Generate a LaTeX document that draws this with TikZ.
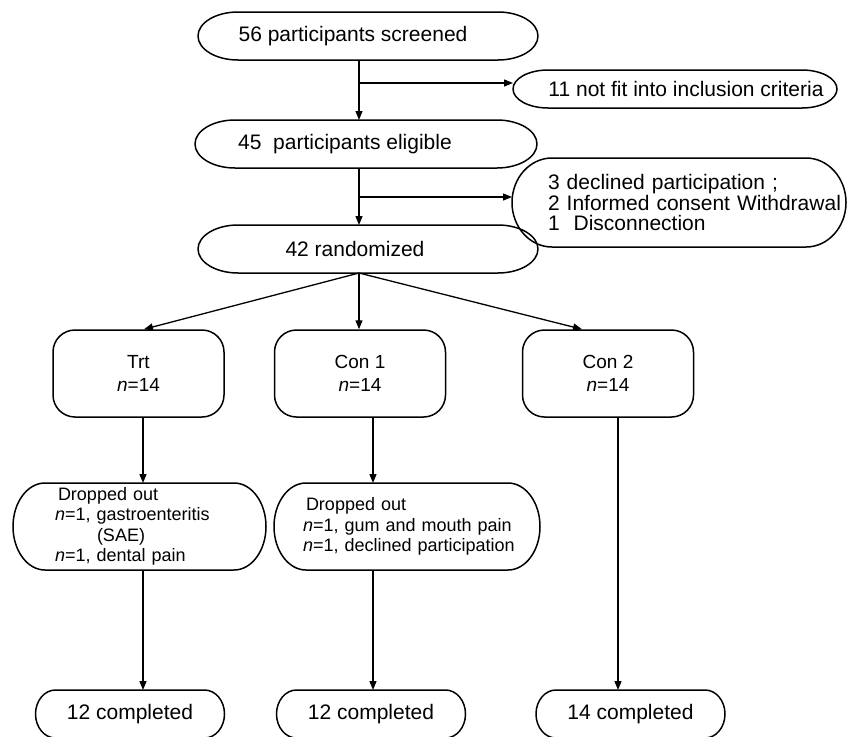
\documentclass[tikz,border=0pt]{standalone}
\usepackage{fontspec}
\setmainfont{Liberation Sans}
\usetikzlibrary{arrows.meta}
\newcommand{\fsA}{\fontsize{21}{24}\selectfont}
\newcommand{\fsD}{\fontsize{21}{19.5}\selectfont}
\newcommand{\fsB}{\fontsize{19}{23}\selectfont}
\newcommand{\fsC}{\fontsize{18}{20.5}\selectfont}
\tikzset{
  lw/.style={line width=1.5pt},
  arr/.style={line width=1.3pt,-{Triangle[length=9pt,width=7pt]}},
  obox/.style 2 args={inner sep=0pt, outer sep=0pt,
    append after command={\pgfextra{\let\LN\tikzlastnode
      \draw[lw,line join=round] ([xshift=#1pt]\LN.north west) -- ([xshift=-#1pt]\LN.north east)
        arc[start angle=90,end angle=-90,x radius=#1pt,y radius=#2pt]
        -- ([xshift=#1pt]\LN.south west)
        arc[start angle=270,end angle=90,x radius=#1pt,y radius=#2pt] -- cycle;}}},
  topbox/.style={obox={40}{24}, minimum width=340pt, minimum height=48pt, font=\fsA},
  grp/.style={draw, lw, rounded corners=22pt, inner sep=0pt, minimum width=171pt, minimum height=87pt, align=center, font=\fsB},
  drop/.style={obox={32}{43.5}, minimum height=87pt, align=left, font=\fsC},
  done/.style={obox={20}{24}, minimum width=189pt, minimum height=48pt, font=\fsA},
}
\begin{document}
\begin{tikzpicture}[x=1pt,y=-1pt]
\useasboundingbox (0,0) rectangle (848,736);
% top flow
\node[topbox] (s) at (368,36) {\hspace*{-30pt}56 participants screened};
\node[obox={35}{19}, minimum width=324pt, minimum height=38pt, font=\fsA] (n11) at (675,89) {\hspace*{22pt}11 not fit into inclusion criteria};
\node[topbox, minimum width=342pt] (e) at (366,144) {\hspace*{-42pt}45\ \ participants eligible};
\node[obox={40}{44.5}, minimum width=334pt, minimum height=89pt, text width=334pt, align=left, font=\fsD] (d3) at (679,202.5)
  {\hspace*{36pt}3 declined participation ;\\ \hspace*{36pt}2 Informed consent Withdrawal\\ \hspace*{36pt}1\ \ Disconnection};
\node[topbox] (r) at (368,249) {\hspace*{-26pt}42 randomized};
% groups
\node[grp] (g1) at (138.5,373.5) {Trt\\\textit{n}=14};
\node[grp] (g2) at (360,373.5) {Con 1\\\textit{n}=14};
\node[grp] (g3) at (608,373.5) {Con 2\\\textit{n}=14};
% dropped out
\node[drop, minimum width=253pt, text width=253pt] (d1) at (139.5,526.5)
  {\hspace*{45pt}Dropped out\\ \hspace*{42pt}\textit{n}=1, gastroenteritis\\ \hspace*{84pt}(SAE)\\ \hspace*{42pt}\textit{n}=1, dental pain};
\node[drop, minimum width=266pt, text width=266pt] (d2) at (407,526.5)
  {\hspace*{32pt}Dropped out\\ \hspace*{29pt}\textit{n}=1, gum and mouth pain\\ \hspace*{29pt}\textit{n}=1, declined participation};
% completed
\node[done] (c1) at (130,714) {12 completed};
\node[done] (c2) at (371,714) {12 completed};
\node[done] (c3) at (630.5,714) {14 completed};
% connectors
\coordinate (b1) at (359,83);
\coordinate (b2) at (359,197);
\coordinate (x1) at (143,0);
\coordinate (x2) at (373,0);
\coordinate (x3) at (618,0);
\draw[arr] (b1 |- s.south) -- (b1 |- e.north);
\draw[arr] (b1) -- (b1 -| n11.west);
\draw[arr] (b2 |- e.south) -- (b2 |- r.north);
\draw[arr] (b2) -- (b2 -| d3.west);
\coordinate (rb) at (b1 |- r.south);
\draw[arr] (rb) -- ([xshift=5.5pt]g1.north);
\draw[arr] (rb) -- ([xshift=-1pt]g2.north);
\draw[arr] (rb) -- ([xshift=-26pt]g3.north);
\draw[arr] (x1 |- g1.south) -- (x1 |- d1.north);
\draw[arr] (x2 |- g2.south) -- (x2 |- d2.north);
\draw[arr] (x3 |- g3.south) -- (x3 |- c3.north);
\draw[arr] (x1 |- d1.south) -- (x1 |- c1.north);
\draw[arr] (x2 |- d2.south) -- (x2 |- c2.north);
\end{tikzpicture}
\end{document}
